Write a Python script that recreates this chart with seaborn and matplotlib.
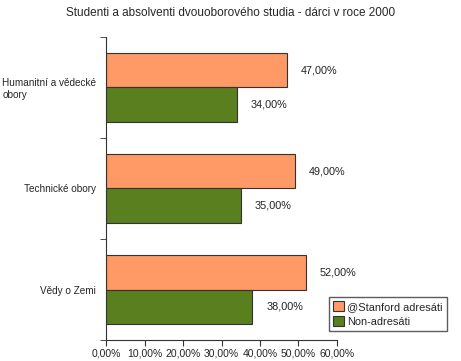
import pandas as pd
import matplotlib.pyplot as plt
import seaborn as sns

# Data
categories = ["Humanitní a vědecké\nobory", "Technické obory", "Vědy o Zemi"]
stanford = [47.0, 49.0, 52.0]
non_adresati = [34.0, 35.0, 38.0]
series_names = ["@Stanford adresáti", "Non-adresáti"]
x_ticks = [0, 10, 20, 30, 40, 50, 60]

df = pd.DataFrame({
    "Obor": categories * 2,
    "Hodnota": stanford + non_adresati,
    "Skupina": [series_names[0]] * 3 + [series_names[1]] * 3,
})

sns.set_style("white")
plt.rcParams["font.family"] = ["Liberation Sans", "DejaVu Sans"]

fig = plt.figure(figsize=(4.61, 3.61), dpi=100)
ax = fig.add_axes([0.23, 0.058, 0.501, 0.84])

sns.barplot(
    data=df, x="Hodnota", y="Obor", hue="Skupina", orient="h",
    palette=["#FF9966", "#5A7F1F"], saturation=1, width=0.68, gap=0,
    edgecolor="#333333", linewidth=0.8, ax=ax, legend=True,
)

# value labels
for cont in ax.containers:
    ax.bar_label(cont, labels=[f"{v:.2f}%".replace(".", ",") for v in cont.datavalues],
                 padding=10, fontsize=7.8, color="#222222")

ax.set_xlim(0, 60)
ax.set_ylim(2.5, -0.5)
ax.set_xticks(x_ticks)
ax.set_xticklabels([f"{t:.2f}%".replace(".", ",") for t in x_ticks], fontsize=7.5)
ax.set_yticks([0, 1, 2])
ax.set_yticklabels(categories, fontsize=7.2)
for lbl in ax.get_yticklabels():
    lbl.set_multialignment("left")
ax.set_yticks([-0.5, 0.5, 1.5, 2.5], minor=True)
ax.tick_params(axis="y", which="major", length=0, pad=7)
ax.tick_params(axis="y", which="minor", length=4, color="#333333", direction="out", left=True)
ax.tick_params(axis="x", length=4, color="#333333", direction="out", bottom=True, pad=2)
ax.set_xlabel("")
ax.set_ylabel("")

for s in ["top", "right"]:
    ax.spines[s].set_visible(False)
for s in ["left", "bottom"]:
    ax.spines[s].set_color("#333333")
    ax.spines[s].set_linewidth(0.8)

handles, labels = ax.get_legend_handles_labels()
ax.legend_.remove()
fig.legend(handles, labels, loc="upper left", bbox_to_anchor=(0.713, 0.178),
           fontsize=7.9, frameon=True, fancybox=False, edgecolor="#333333",
           handlelength=1.0, handleheight=1.0, handletextpad=0.3,
           borderpad=0.4, labelspacing=0.4, borderaxespad=0)

fig.text(0.5, 0.965, "Studenti a absolventi dvouoborového studia - dárci v roce 2000",
         ha="center", va="center", fontsize=8.5)

plt.savefig("out.png", dpi=100)
